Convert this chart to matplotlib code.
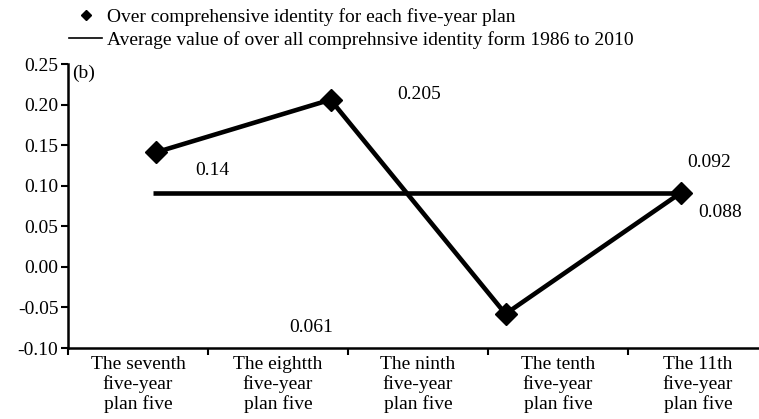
import matplotlib
matplotlib.use("Agg")
import matplotlib.pyplot as plt
from matplotlib.lines import Line2D

plt.rcParams['font.family'] = ['Liberation Serif', 'DejaVu Serif']

categories = ["The seventh\nfive-year\nplan five",
              "The eightth\nfive-year\nplan five",
              "The ninth\nfive-year\nplan five",
              "The tenth\nfive-year\nplan five",
              "The 11th\nfive-year\nplan five"]

identity_values = [0.141, 0.206, -0.058, 0.091]
average_value = 0.091
value_labels = ["0.14", "0.205", "0.061", "0.092", "0.088"]
label_x = [1.03, 2.51, 1.74, 4.58, 4.66]
label_y = [0.119, 0.212, -0.075, 0.129, 0.0676]
yticks = [-0.10, -0.05, 0.0, 0.05, 0.10, 0.15, 0.20, 0.25]

FS = 14

fig = plt.figure(figsize=(7.59, 4.19), dpi=100)
ax = fig.add_axes([68/759, 1 - 348/419, 1 - 68/759, (348 - 64)/419])

n = len(categories)
pts_x = [(i + 0.5) * n / len(identity_values) for i in range(len(identity_values))]

ax.plot([pts_x[0] - 0.02, pts_x[-1]], [average_value, average_value], color='black', lw=3.3,
        solid_capstyle='butt')
ax.plot(pts_x, identity_values, color='black', lw=3.3, marker='D', markersize=11,
        solid_joinstyle='miter')

for t, x, y in zip(value_labels, label_x, label_y):
    ax.text(x, y, t, ha='center', va='center', fontsize=FS)

ax.text(0.03, 0.238, "(b)", ha='left', va='center', fontsize=FS)

ax.set_xlim(0, (759 - 68) / 140)
ax.set_ylim(-0.10, 0.25)
ax.set_yticks(yticks)
ax.set_yticklabels([f"{v:.2f}" for v in yticks])
ax.set_xticks(range(n))
ax.set_xticklabels([])
ax.set_xticks([i + 0.5 for i in range(n)], minor=True)
ax.set_xticklabels(categories, minor=True, linespacing=1.15)
ax.tick_params(axis='x', which='minor', length=0, pad=6, labelsize=FS)
ax.tick_params(axis='x', which='major', length=5, width=1.5, direction='out')
ax.tick_params(axis='y', length=5, width=1.5, direction='out', labelsize=FS, pad=2)

for s in ['top', 'right']:
    ax.spines[s].set_visible(False)
for s in ['left', 'bottom']:
    ax.spines[s].set_linewidth(1.8)

handles = [Line2D([], [], color='black', marker='D', markersize=5.5, linestyle='None'),
           Line2D([], [], color='black', lw=1.2)]
labels = ["Over comprehensive identity for each five-year plan",
          "Average value of over all comprehnsive identity form 1986 to 2010"]
fig.legend(handles, labels, loc='upper left', bbox_to_anchor=(69/759, 1 - 8/419),
           frameon=False, fontsize=FS, handlelength=1.7, handletextpad=0.26,
           labelspacing=0.25, borderpad=0, borderaxespad=0)

fig.savefig("out.png", dpi=100)
